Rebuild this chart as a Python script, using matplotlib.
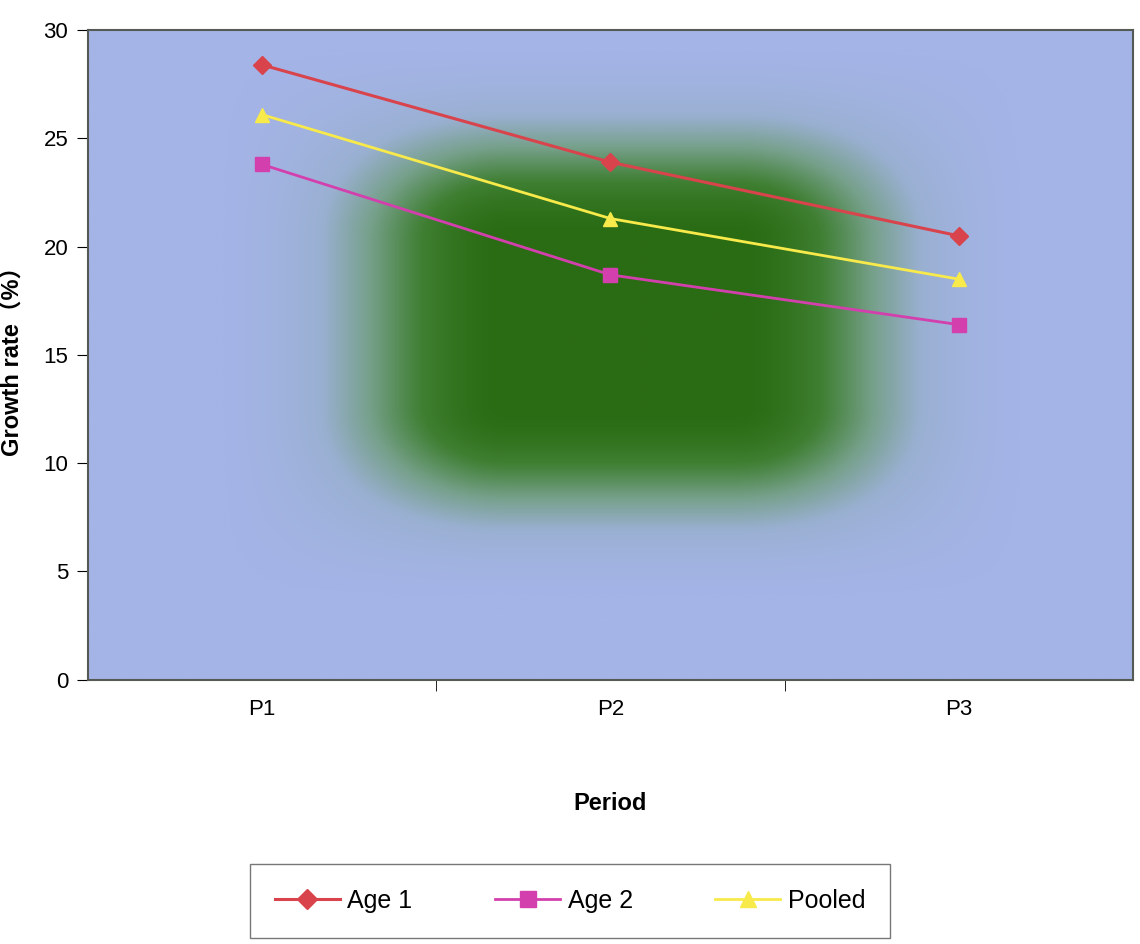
import numpy as np
import matplotlib.pyplot as plt
from matplotlib.colors import LinearSegmentedColormap

periods = ["P1", "P2", "P3"]
age1    = [28.4, 23.9, 20.5]
age2    = [23.8, 18.7, 16.4]
pooled  = [26.1, 21.3, 18.5]

y_ticks = [0, 5, 10, 15, 20, 25, 30]

plt.rcParams["font.family"] = ["Liberation Sans", "Noto Sans CJK SC", "DejaVu Sans"]

fig = plt.figure(figsize=(11.4, 9.44), dpi=100)
ax = fig.add_axes([0.077, 0.28, 0.917, 0.688])

# blurred green patch in the middle of a blue plot area
gx = np.linspace(0, 1, 400)
gy = np.linspace(0, 1, 300)
X, Y = np.meshgrid(gx, gy)

def soft_band(t, lo, hi, w):
    a = np.clip((t - (lo - w)) / w, 0, 1)
    b = np.clip(((hi + w) - t) / w, 0, 1)
    a = a * a * (3 - 2 * a)
    b = b * b * (3 - 2 * b)
    return a * b

blob = soft_band(X, 0.40, 0.62, 0.28) * soft_band(Y, 0.42, 0.68, 0.30)
cmap = LinearSegmentedColormap.from_list(
    "bg", [(0.0, "#a4b4e6"), (0.3, "#9ab0d2"), (0.55, "#76a08a"),
           (0.8, "#3f7f32"), (1.0, "#2a6c14")])
ax.imshow(blob, cmap=cmap, extent=[-0.5, 2.5, 0, 30], origin="lower",
          aspect="auto", zorder=0, interpolation="bilinear")

x = np.arange(len(periods))
ax.plot(x, age1, color="#d8434c", lw=2.2, marker="D", ms=9, label="Age 1", zorder=3)
ax.plot(x, age2, color="#d43fae", lw=2.0, marker="s", ms=10, label="Age 2", zorder=3)
ax.plot(x, pooled, color="#f7ea4a", lw=2.0, marker="^", ms=10, label="Pooled", zorder=3)

ax.set_xlim(-0.5, 2.5)
ax.set_ylim(0, 30)
ax.set_yticks(y_ticks)
ax.set_xticks(x)
ax.set_xticklabels(periods)
ax.set_xticks([0.5, 1.5], minor=True)
ax.tick_params(axis="x", which="major", length=0, pad=14, labelsize=16)
ax.tick_params(axis="x", which="minor", length=8, direction="out")
ax.tick_params(axis="y", length=8, direction="out", labelsize=16, pad=6)

for s in ax.spines.values():
    s.set_color("#555a55")
    s.set_linewidth(1.5)

ax.set_ylabel("Growth rate（%）", fontsize=17, fontweight="bold", labelpad=14)
ax.set_xlabel("Period", fontsize=17, fontweight="bold", labelpad=52)

leg = fig.legend(loc="center", bbox_to_anchor=(0.5, 0.046), ncol=3, fontsize=18,
                 frameon=True, fancybox=False, edgecolor="#555555",
                 handlelength=2.6, columnspacing=3.3, borderpad=1.0,
                 handletextpad=0.3, markerscale=1.1)
leg.get_frame().set_linewidth(1.0)

fig.savefig("out.png", dpi=100)
